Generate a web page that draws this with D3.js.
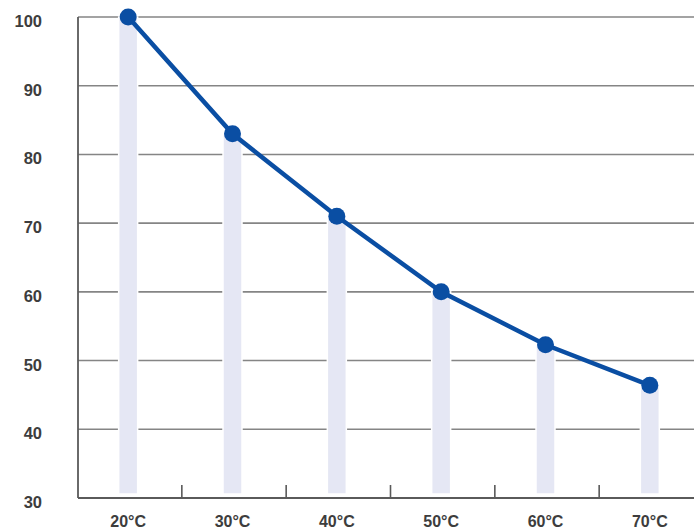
<!DOCTYPE html>
<html>
<head>
<meta charset="utf-8">
<script src="https://cdn.jsdelivr.net/npm/d3@7"></script>
<style>
  body { margin: 0; background: #fff; }
  svg { display: block; }
  text { font-family: "Liberation Sans", Arial, sans-serif; font-weight: bold; fill: #3d3d3d; }
</style>
</head>
<body>
<script>
// chart data
const categories = ['20°C', '30°C', '40°C', '50°C', '60°C', '70°C'];
const values = [100, 83, 71, 60, 52.3, 46.4];
const yTicks = [30, 40, 50, 60, 70, 80, 90, 100];

(function init() {
  const width = 694;
  const height = 529;
  const left = 78;

  const svg = d3.select('body')
    .append('svg')
    .attr('width', width)
    .attr('height', height);

  const x = d3.scaleBand()
    .domain(categories)
    .range([76, 702]);

  const y = d3.scaleLinear()
    .domain([30, 100])
    .range([498, 17]);

  // horizontal grid lines
  svg.append('g')
    .selectAll('line')
    .data(yTicks.filter(d => d > 30))
    .enter()
    .append('line')
    .attr('x1', left)
    .attr('x2', width)
    .attr('y1', d => y(d))
    .attr('y2', d => y(d))
    .attr('stroke', '#858585')
    .attr('stroke-width', 1.6);

  // y labels
  svg.append('g')
    .selectAll('text')
    .data(yTicks)
    .enter()
    .append('text')
    .attr('x', 42)
    .attr('y', d => y(d) + 10)
    .attr('text-anchor', 'end')
    .style('font-size', '16.5px')
    .text(d => d);

  // pale bars behind points
  const barW = 19;
  svg.append('g')
    .selectAll('rect')
    .data(values)
    .enter()
    .append('rect')
    .attr('x', (d, i) => x(categories[i]) + x.bandwidth() / 2 - barW / 2)
    .attr('y', d => y(d))
    .attr('width', barW)
    .attr('height', d => y(30) - 4 - y(d))
    .attr('fill', '#e5e7f4')
    .attr('stroke', '#fff')
    .attr('stroke-width', 1.5);

  // axes lines
  svg.append('line')
    .attr('x1', left).attr('x2', left)
    .attr('y1', y(100)).attr('y2', y(30))
    .attr('stroke', '#5a5a5a').attr('stroke-width', 1.8);
  svg.append('line')
    .attr('x1', left).attr('x2', width)
    .attr('y1', y(30)).attr('y2', y(30))
    .attr('stroke', '#5a5a5a').attr('stroke-width', 1.8);

  // category separators (ticks pointing up)
  svg.append('g')
    .selectAll('line')
    .data(categories.slice(1))
    .enter()
    .append('line')
    .attr('x1', d => x(d) + 1.5)
    .attr('x2', d => x(d) + 1.5)
    .attr('y1', y(30))
    .attr('y2', y(30) - 13)
    .attr('stroke', '#5a5a5a')
    .attr('stroke-width', 1.6);

  // x labels
  svg.append('g')
    .selectAll('text')
    .data(categories)
    .enter()
    .append('text')
    .attr('x', d => x(d) + x.bandwidth() / 2)
    .attr('y', 527)
    .attr('text-anchor', 'middle')
    .style('font-size', '16px')
    .text(d => d);

  // line + markers
  const line = d3.line()
    .x((d, i) => x(categories[i]) + x.bandwidth() / 2)
    .y(d => y(d));

  svg.append('path')
    .datum(values)
    .attr('d', line)
    .attr('fill', 'none')
    .attr('stroke', '#0a4ea3')
    .attr('stroke-width', 4.5);

  svg.append('g')
    .selectAll('circle')
    .data(values)
    .enter()
    .append('circle')
    .attr('cx', (d, i) => x(categories[i]) + x.bandwidth() / 2)
    .attr('cy', d => y(d))
    .attr('r', 8.5)
    .attr('fill', '#0a4ea3');
}());
</script>
</body>
</html>
